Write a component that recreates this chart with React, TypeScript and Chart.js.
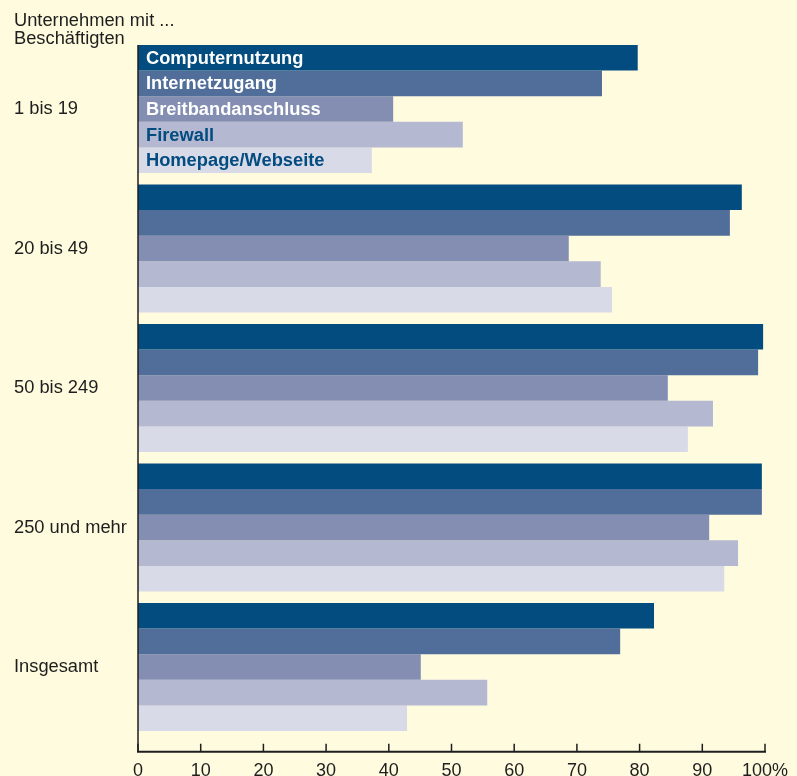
import React, { useEffect, useRef } from 'react';
import { Chart, registerables } from 'chart.js';

Chart.register(...registerables);

const categories = ['1 bis 19', '20 bis 49', '50 bis 249', '250 und mehr', 'Insgesamt'];
const seriesNames = ['Computernutzung', 'Internetzugang', 'Breitbandanschluss', 'Firewall', 'Homepage/Webseite'];
const computernutzung = [79.7, 96.3, 99.7, 99.5, 82.3];
const internetzugang = [74.0, 94.4, 98.9, 99.5, 76.9];
const breitbandanschluss = [40.7, 68.7, 84.5, 91.1, 45.1];
const firewall = [51.8, 73.8, 91.7, 95.7, 55.7];
const homepage = [37.3, 75.6, 87.7, 93.5, 42.9];
const xTicks = [0, 10, 20, 30, 40, 50, 60, 70, 80, 90, 100];
const xTickLabels = ['0', '10', '20', '30', '40', '50', '60', '70', '80', '90', '100%'];
const titleLines = ['Unternehmen mit ...', 'Beschäftigten'];

const seriesValues = [computernutzung, internetzugang, breitbandanschluss, firewall, homepage];
const seriesColors = ['#024C80', '#506E99', '#838EB2', '#B4B8D1', '#D9DAE8'];
const labelColors = ['#FFFFFF', '#FFFFFF', '#FFFFFF', '#024C80', '#024C80'];
const BG = '#FFFBDF';
const TEXT = '#1E1E1E';
const FONT = '"Liberation Sans", Arial, Helvetica, sans-serif';

const customPlugin = {
  id: 'customAxes',
  afterDraw(chart: any) {
    const { ctx, chartArea, scales } = chart;
    const x = scales.x;
    const axisY = chartArea.bottom + 15;
    const first = chart.getDatasetMeta(0).data[0].getProps(['y', 'height'], true);
    const topY = first.y - first.height / 2;
    ctx.save();
    ctx.strokeStyle = TEXT;
    // vertical axis
    ctx.lineWidth = 1.5;
    ctx.beginPath();
    ctx.moveTo(chartArea.left, topY);
    ctx.lineTo(chartArea.left, axisY);
    ctx.stroke();
    // horizontal axis
    ctx.lineWidth = 2;
    ctx.beginPath();
    ctx.moveTo(x.getPixelForValue(xTicks[0]) - 1, axisY);
    ctx.lineTo(x.getPixelForValue(xTicks[xTicks.length - 1]) + 1, axisY);
    ctx.stroke();
    // ticks
    ctx.lineWidth = 1.5;
    ctx.fillStyle = TEXT;
    ctx.font = `18px ${FONT}`;
    ctx.textAlign = 'center';
    ctx.textBaseline = 'alphabetic';
    xTicks.forEach((t, i) => {
      const px = x.getPixelForValue(t);
      ctx.beginPath();
      ctx.moveTo(px, axisY - 8);
      ctx.lineTo(px, axisY);
      ctx.stroke();
      ctx.fillText(xTickLabels[i], px, axisY + 24);
    });
    // title
    ctx.textAlign = 'left';
    ctx.font = `18.3px ${FONT}`;
    ctx.fillText(titleLines[0], 14, 26);
    ctx.fillText(titleLines[1], 14, 44);
    // legend labels inside first group bars
    ctx.font = `bold 18.3px ${FONT}`;
    ctx.textBaseline = 'middle';
    seriesNames.forEach((name, i) => {
      const bar = chart.getDatasetMeta(i).data[0].getProps(['y'], true);
      ctx.fillStyle = labelColors[i];
      ctx.fillText(name, chartArea.left + 8, bar.y + 1);
    });
    ctx.restore();
  },
};

export default function App() {
  const ref = useRef<HTMLCanvasElement>(null);
  useEffect(() => {
    document.body.style.margin = '0';
    document.body.style.background = BG;
    const chart = new Chart(ref.current!, {
      type: 'bar',
      data: {
        labels: categories,
        datasets: seriesNames.map((name, i) => ({
          label: name,
          data: seriesValues[i],
          backgroundColor: seriesColors[i],
          borderWidth: 0,
          categoryPercentage: 0.917,
          barPercentage: 1.0,
        })),
      },
      options: {
        indexAxis: 'y',
        responsive: false,
        animation: false,
        devicePixelRatio: 1,
        layout: { padding: { left: 14, right: 32, top: 39.25, bottom: 39.25 } },
        plugins: { legend: { display: false }, tooltip: { enabled: false }, title: { display: false } },
        scales: {
          x: { type: 'linear', min: 0, max: 100, display: false },
          y: {
            type: 'category',
            grid: { display: false, drawTicks: false },
            border: { display: false },
            ticks: { crossAlign: 'far', padding: 0, color: TEXT, font: { size: 18.3, family: FONT } },
            afterFit: (scale: any) => {
              scale.width = 124;
            },
          },
        },
      },
      plugins: [customPlugin],
    } as any);
    return () => chart.destroy();
  }, []);
  return (
    <div style={{ position: 'absolute', left: 0, top: 0, width: 797, height: 776, background: BG }}>
      <canvas ref={ref} width={797} height={776} style={{ display: 'block', width: 797, height: 776 }} />
    </div>
  );
}
